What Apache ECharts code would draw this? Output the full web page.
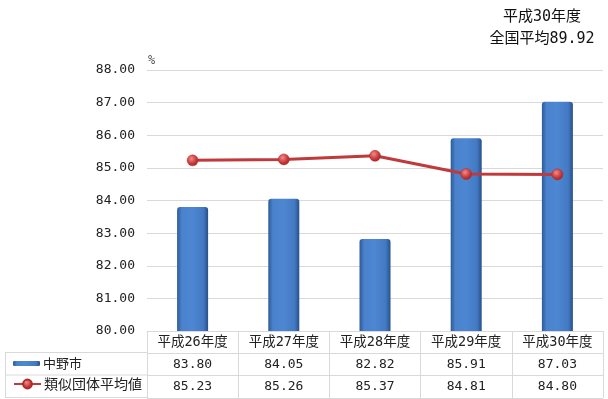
<!DOCTYPE html>
<html><head><meta charset="utf-8">
<script src="https://cdn.jsdelivr.net/npm/echarts@6/dist/echarts.min.js"></script>
<style>html,body{margin:0;padding:0;background:#fff}#c{width:608px;height:399px}</style>
</head><body><div id="c"></div>
<script>
var categories = ['平成26年度','平成27年度','平成28年度','平成29年度','平成30年度'];
var nakanoValues = [83.80, 84.05, 82.82, 85.91, 87.03];
var similarValues = [85.23, 85.26, 85.37, 84.81, 84.80];
var seriesNames = ['中野市','類似団体平均値'];
var yTicks = {min: 80, max: 88, interval: 1};
var noteLines = ['平成30年度','全国平均89.92'];

var FONT = '"DejaVu Sans Mono","Noto Sans CJK JP",monospace';
var JFONT = '"Noto Sans CJK JP","DejaVu Sans Mono",sans-serif';
var gridColor = '#d9d9d9';

var chart = echarts.init(document.getElementById('c'), null, {renderer:'canvas'});
chart.setOption({
  animation: false,
  grid: [
    {left: 147, right: 5, top: 70, height: 261},
    {left: 147, right: 5, top: 331, height: 67}
  ],
  xAxis: [
    {type:'category', gridIndex:0, data: categories,
     axisLine:{show:true, lineStyle:{color:gridColor}}, axisTick:{show:false},
     axisLabel:{
       margin: 0, interval: 0,
       formatter: function(v, i){
         return '{h|' + v + '}\n{v|' + nakanoValues[i].toFixed(2) + '}\n{v|' + similarValues[i].toFixed(2) + '}';
       },
       rich:{
         h:{fontFamily: FONT, fontSize:13.5, color:'#222', lineHeight:22.3},
         v:{fontFamily: FONT, fontSize:13, color:'#222', lineHeight:22.3}
       }
     }},
    {type:'category', gridIndex:1, data: categories,
     axisLine:{show:false}, axisTick:{show:false}, axisLabel:{show:false},
     splitLine:{show:true, lineStyle:{color:gridColor}}}
  ],
  yAxis: [
    {type:'value', gridIndex:0, min:yTicks.min, max:yTicks.max, interval:yTicks.interval,
     name:'%', nameLocation:'end', nameGap:3,
     nameTextStyle:{align:'left', color:'#555', fontSize:12, fontFamily:FONT, padding:[0,0,0,1]},
     axisLine:{show:false}, axisTick:{show:false},
     axisLabel:{margin:12, color:'#222', fontSize:13, fontFamily:FONT,
       formatter:function(v){return v.toFixed(2);}},
     splitLine:{lineStyle:{color:gridColor}}},
    {type:'value', gridIndex:1, min:0, max:3, interval:1, inverse:true,
     axisLine:{show:false}, axisTick:{show:false}, axisLabel:{show:false},
     splitLine:{show:true, lineStyle:{color:gridColor}}}
  ],
  legend: [
    {data:[seriesNames[0]], left: 13, top: 357, padding: 0, itemWidth: 27, itemHeight: 5, itemGap: 4,
     textStyle:{fontFamily:JFONT, fontSize:13, color:'#222', padding:[0,0,0,-2]}},
    {data:[seriesNames[1]], left: 13, top: 377, padding: 0, itemWidth: 27, itemHeight: 11, itemGap: 4,
     textStyle:{fontFamily:JFONT, fontSize:14, color:'#222', padding:[0,0,0,-2]}}
  ],
  series: [
    {name: seriesNames[0], type:'bar', xAxisIndex:0, yAxisIndex:0, data: nakanoValues,
     barWidth: 31,
     itemStyle:{
       borderRadius:[3,3,0,0],
       color: new echarts.graphic.LinearGradient(0,0,1,0,[
         {offset:0, color:'#2c5a98'},
         {offset:0.15, color:'#4a82cc'},
         {offset:0.5, color:'#4d86d2'},
         {offset:0.85, color:'#4279c2'},
         {offset:1, color:'#27508a'}
       ])
     }},
    {name: seriesNames[1], type:'line', xAxisIndex:0, yAxisIndex:0, data: similarValues,
     symbol:'circle', symbolSize:11,
     lineStyle:{color:'#c0393b', width:3},
     itemStyle:{
       color: new echarts.graphic.RadialGradient(0.4,0.35,0.7,[
         {offset:0, color:'#f28a8a'},
         {offset:0.6, color:'#c83a3a'},
         {offset:1, color:'#9e2424'}
       ]),
       borderColor:'#b02a2a', borderWidth:0.5
     }}
  ],
  graphic: [
    {type:'text', x: 542, y: 6,
     style:{text: noteLines.join('\n'), fill:'#111', font:'15px ' + FONT, align:'center', textAlign:'center', lineHeight:22}},
    {type:'line', shape:{x1:5, y1:352.5, x2:147, y2:352.5}, style:{stroke:gridColor, lineWidth:1}},
    {type:'line', shape:{x1:5, y1:375, x2:147, y2:375}, style:{stroke:gridColor, lineWidth:1}},
    {type:'line', shape:{x1:5, y1:397.5, x2:147, y2:397.5}, style:{stroke:gridColor, lineWidth:1}},
    {type:'line', shape:{x1:5.5, y1:352.5, x2:5.5, y2:397.5}, style:{stroke:gridColor, lineWidth:1}}
  ]
});
</script></body></html>
